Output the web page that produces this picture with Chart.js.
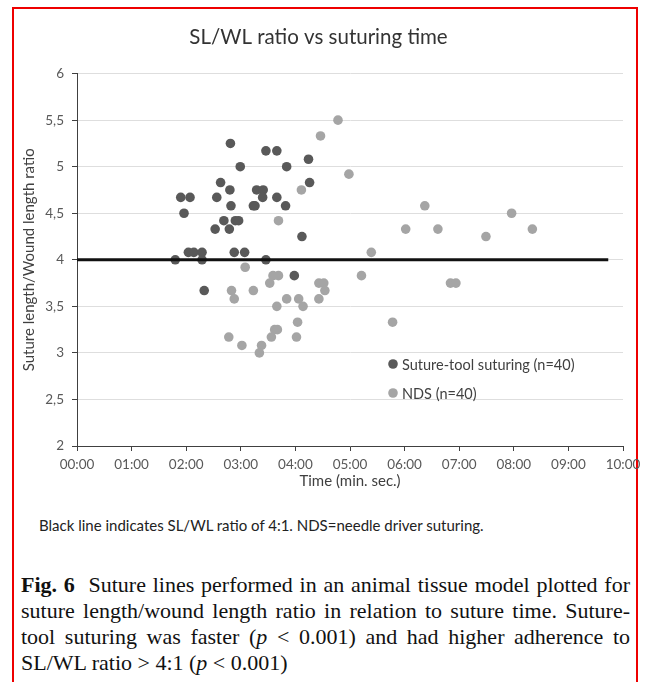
<!DOCTYPE html>
<html>
<head>
<meta charset="utf-8">
<script src="https://cdn.jsdelivr.net/npm/chart.js@4"></script>
<style>
  body { margin: 0; background: #fff; }
  #frame { position: absolute; left: 12px; top: 7px; width: 622px; height: 700px; border: 2px solid #e00; border-bottom: none; }
  #wrap { position: absolute; left: 0; top: 0; width: 650px; height: 500px; }
  .note { position: absolute; left: 39px; top: 516px; font: 15px Lato, sans-serif; color: #222; }
  .caption { position: absolute; left: 21px; top: 572px; width: 609px; font: 22px/26px "Liberation Serif", "Times New Roman", serif; color: #111; }
  .caption .j { text-align: justify; text-align-last: justify; }
</style>
</head>
<body>
<div id="frame"></div>
<div id="wrap"><canvas id="sutureChart" width="650" height="500"></canvas></div>
<div class="note">Black line indicates SL/WL ratio of 4:1. NDS=needle driver suturing.</div>
<div class="caption">
  <div class="j"><b>Fig. 6</b>&nbsp; Suture lines performed in an animal tissue model plotted for<br>suture length/wound length ratio in relation to suture time. Suture-<br>tool suturing was faster (<i>p</i> &lt; 0.001) and had higher adherence to</div>
  <div>SL/WL ratio &gt; 4:1 (<i>p</i> &lt; 0.001)</div>
</div>
<script>
// suturing time in minutes, SL/WL ratio
const toolTimes = [2.81, 3.46, 3.66, 2.99, 3.84, 4.24, 2.63, 4.26, 2.80, 3.29, 3.41, 1.90, 2.07, 2.56, 3.40, 3.66, 1.96, 2.82, 3.23, 3.26, 3.82, 2.69, 2.90, 2.96, 2.53, 2.79, 2.04, 2.14, 2.29, 2.88, 3.07, 1.80, 2.29, 3.46, 4.12, 3.98, 2.33];
const toolRatios = [5.25, 5.17, 5.17, 5.00, 5.00, 5.08, 4.83, 4.83, 4.75, 4.75, 4.75, 4.67, 4.67, 4.67, 4.67, 4.67, 4.50, 4.58, 4.58, 4.58, 4.58, 4.42, 4.42, 4.42, 4.33, 4.33, 4.08, 4.08, 4.08, 4.08, 4.08, 4.00, 4.00, 4.00, 4.25, 3.83, 3.67];

const ndsTimes = [4.78, 4.46, 4.98, 4.11, 3.69, 5.39, 3.08, 3.59, 3.69, 5.21, 3.53, 4.43, 4.52, 2.83, 3.23, 4.54, 2.88, 3.84, 4.06, 4.43, 3.66, 4.14, 4.04, 3.62, 3.67, 2.78, 3.56, 4.02, 3.02, 3.38, 3.34, 6.37, 7.96, 6.02, 6.61, 8.34, 7.49, 6.84, 6.94, 5.78];
const ndsRatios = [5.50, 5.33, 4.92, 4.75, 4.42, 4.08, 3.92, 3.83, 3.83, 3.83, 3.75, 3.75, 3.75, 3.67, 3.67, 3.67, 3.58, 3.58, 3.58, 3.58, 3.50, 3.50, 3.33, 3.25, 3.25, 3.17, 3.17, 3.17, 3.08, 3.08, 3.00, 4.58, 4.50, 4.33, 4.33, 4.33, 4.25, 3.75, 3.75, 3.33];

// 4:1 reference line
const refTimes = [0, 9.73];
const refRatios = [4, 4];

const seriesLabels = ['Suture-tool suturing (n=40)', 'NDS (n=40)'];

const pts = (xs, ys) => xs.map((x, i) => ({ x, y: ys[i] }));

// legend sits inside the plot, like the Excel original
const insideLegend = {
  id: 'insideLegend',
  afterDraw(chart) {
    const c = chart.ctx;
    const items = chart.data.datasets.filter(d => d.type === 'scatter').reverse();
    c.save();
    c.font = '14.5px Lato';
    c.textBaseline = 'middle';
    items.forEach((d, i) => {
      const y = 364 + i * 29;
      c.fillStyle = d.backgroundColor;
      c.beginPath();
      c.arc(393, y, 4.8, 0, Math.PI * 2);
      c.fill();
      c.fillStyle = '#404040';
      c.fillText(d.label, 402, y + 1);
    });
    c.restore();
  }
};

new Chart(document.getElementById('sutureChart'), {
  data: {
    datasets: [
      {
        type: 'line',
        label: '4:1',
        data: pts(refTimes, refRatios),
        borderColor: '#111',
        borderWidth: 3,
        pointRadius: 0
      },
      {
        type: 'scatter',
        label: seriesLabels[1],
        data: pts(ndsTimes, ndsRatios),
        backgroundColor: '#a5a5a5',
        borderWidth: 0,
        pointRadius: 4.8
      },
      {
        type: 'scatter',
        label: seriesLabels[0],
        data: pts(toolTimes, toolRatios),
        backgroundColor: '#595959',
        borderWidth: 0,
        pointRadius: 4.8
      }
    ]
  },
  options: {
    responsive: false,
    animation: false,
    layout: { padding: { left: 14, top: 13, right: 27, bottom: 0 } },
    plugins: {
      legend: { display: false },
      tooltip: { enabled: false },
      title: {
        display: true,
        text: 'SL/WL ratio vs suturing time',
        color: '#333',
        font: { family: 'Lato', size: 20.5, weight: 'normal' },
        padding: { top: 12, bottom: 24 }
      }
    },
    scales: {
      x: {
        type: 'linear',
        min: 0,
        max: 10,
        afterFit: s => { s.height = 54; },
        ticks: {
          stepSize: 1,
          padding: 6,
          color: '#595959',
          font: { family: 'Lato', size: 13.5 },
          callback: v => String(v).padStart(2, '0') + ':00'
        },
        grid: { drawOnChartArea: false, tickLength: 5, tickColor: '#404040' },
        border: { color: '#404040' },
        title: {
          display: true,
          text: 'Time (min. sec.)',
          color: '#404040',
          font: { family: 'Lato', size: 15 },
          padding: { top: 0, bottom: 10 }
        }
      },
      y: {
        min: 2,
        max: 6,
        afterFit: s => { s.width = 63; },
        ticks: {
          stepSize: 0.5,
          padding: 8,
          color: '#595959',
          font: { family: 'Lato', size: 13.5 },
          callback: v => String(v).replace('.', ',')
        },
        grid: { color: '#dedede', tickLength: 5, tickColor: '#404040' },
        border: { color: '#404040' },
        title: {
          display: true,
          text: 'Suture length/Wound length ratio',
          color: '#404040',
          font: { family: 'Lato', size: 15 },
          padding: { top: 6, bottom: 0 }
        }
      }
    }
  },
  plugins: [insideLegend]
});
</script>
</body>
</html>
